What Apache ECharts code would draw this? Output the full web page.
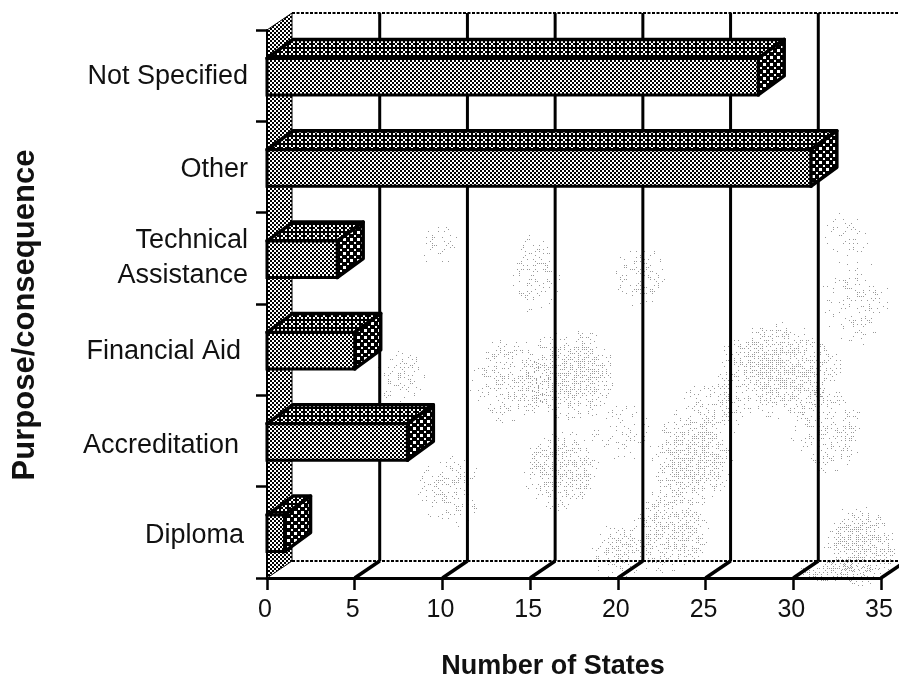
<!DOCTYPE html>
<html>
<head>
<meta charset="utf-8">
<style>html,body{margin:0;padding:0;background:#fff}#c{width:899px;height:680px}</style>
<script src="https://cdn.jsdelivr.net/npm/echarts@6/dist/echarts.min.js"></script>
</head>
<body>
<div id="c"></div>
<script>
const categories = ['Diploma', 'Accreditation', 'Financial Aid', 'Technical\nAssistance', 'Other', 'Not Specified'];
const stateCounts = [1, 8, 5, 4, 31, 28];
const xTicks = [0, 5, 10, 15, 20, 25, 30, 35];

const FONT = '"Liberation Sans", Arial, sans-serif';
const WALL_DX = 25, WALL_DY = -17, BAR_DX = 26, BAR_DY = -19;

function tile(w, h, draw) {
  const c = document.createElement('canvas');
  c.width = w; c.height = h;
  draw(c.getContext('2d'), w, h);
  return { image: c, repeat: 'repeat' };
}
function checker(cell, bg, fg) {
  return tile(cell * 2, cell * 2, (g, w, h) => {
    g.fillStyle = bg; g.fillRect(0, 0, w, h);
    g.fillStyle = fg;
    g.fillRect(0, 0, cell, cell);
    g.fillRect(cell, cell, cell, cell);
  });
}
const frontFill = checker(2, '#000', '#fff');
const wallFill = checker(2, '#000', '#fff');
const topFill = tile(8, 8, (g) => {
  g.fillStyle = '#000'; g.fillRect(0, 0, 8, 8);
  g.fillStyle = '#fff';
  [[1, 1], [3, 3], [5, 5], [5, 1], [1, 5]].forEach(([x, y]) => g.fillRect(x, y, 2, 2));
});
const sideFill = tile(7, 7, (g) => {
  g.fillStyle = '#000'; g.fillRect(0, 0, 7, 7);
  g.fillStyle = '#fff';
  g.fillRect(0, 0, 3, 3);
  g.fillRect(4, 4, 2, 2);
});

// Scanner noise of the printed page: faint dot clouds, deterministic.
function hash(x, y) {
  const s = Math.sin(x * 12.9898 + y * 78.233) * 43758.5453;
  return s - Math.floor(s);
}
function cloud(rx, ry, strength) {
  const c = document.createElement('canvas');
  c.width = rx * 2; c.height = ry * 2;
  const g = c.getContext('2d');
  g.fillStyle = '#999';
  for (let y = 0; y < ry * 2; y += 2) for (let x = 0; x < rx * 2; x += 2) {
    const d = Math.hypot((x - rx) / rx, (y - ry) / ry);
    if (d < 1 && hash(x + rx, y + ry * 3) < strength * (1 - d * d)) g.fillRect(x, y, 1, 1);
  }
  return c;
}
const clouds = [
  [570,375,46,50,.6],[510,380,44,44,.4],[780,370,66,50,.6],[690,460,44,50,.6],[560,470,40,42,.55],
  [670,530,44,44,.5],[860,545,38,42,.6],[620,550,34,30,.4],[450,490,34,40,.3],[400,375,28,30,.3],
  [535,275,26,44,.28],[440,245,24,24,.22],[640,275,30,34,.28],[855,300,36,46,.28],[845,235,26,26,.2],
  [710,410,40,34,.3],[825,430,40,44,.35],[620,430,34,34,.18],[835,570,50,12,.5]
];

function renderFrame(params, api) {
  const v = api.value(0);
  const cs = params.coordSys;
  const x = api.coord([v, 0])[0];
  const bottom = cs.y + cs.height, top = cs.y;
  const ink = { stroke: '#000', fill: null };
  const out = [];
  if (v === 0) {
    out.push({ type: 'polygon', shape: { points: [[x, top], [x + WALL_DX, top + WALL_DY], [x + WALL_DX, bottom + WALL_DY], [x, bottom]] },
      style: { fill: wallFill, stroke: '#000', lineWidth: 1 } });
    const end = cs.x + cs.width + WALL_DX;
    [top + WALL_DY, bottom + WALL_DY].forEach(y => out.push({ type: 'line', shape: { x1: x + WALL_DX, y1: y, x2: end, y2: y },
      style: { ...ink, lineWidth: 2, lineDash: [3, 1.5] } }));
  } else {
    out.push({ type: 'line', shape: { x1: x, y1: bottom, x2: x + WALL_DX, y2: bottom + WALL_DY }, style: { ...ink, lineWidth: 3.5 } });
    out.push({ type: 'line', shape: { x1: x + WALL_DX, y1: bottom + WALL_DY, x2: x + WALL_DX, y2: top + WALL_DY }, style: { ...ink, lineWidth: 3 } });
  }
  return { type: 'group', children: out };
}

function renderBar(params, api) {
  const p = api.coord([api.value(0), api.value(1)]);
  const x0 = api.coord([0, api.value(1)])[0];
  const h = api.size([0, 1])[1] * 0.4;
  const xr = p[0], yt = p[1] - h / 2 + 1, yb = p[1] + h / 2 + 1;
  const line = { stroke: '#000', lineWidth: 3.5, lineJoin: 'round' };
  return { type: 'group', children: [
    { type: 'polygon', shape: { points: [[x0, yt], [x0 + BAR_DX, yt + BAR_DY], [xr + BAR_DX, yt + BAR_DY], [xr, yt]] }, style: { fill: topFill, ...line } },
    { type: 'polygon', shape: { points: [[xr, yt], [xr + BAR_DX, yt + BAR_DY], [xr + BAR_DX, yb + BAR_DY], [xr, yb]] }, style: { fill: sideFill, ...line } },
    { type: 'rect', shape: { x: x0, y: yt, width: xr - x0, height: yb - yt }, style: { fill: frontFill, stroke: '#000', lineWidth: 3 } }
  ] };
}

const richLabel = (padding) => ({ fontFamily: FONT, fontSize: 27, color: '#111', padding });

const chart = echarts.init(document.getElementById('c'), null, { renderer: 'canvas' });
chart.setOption({
  animation: false,
  backgroundColor: '#fff',
  grid: { left: 267, right: 18, top: 30, bottom: 102, containLabel: false, outerBoundsMode: 'none' },
  graphic: { elements: clouds.map(([x, y, rx, ry, s]) => ({
    type: 'image', z: 0, silent: true, style: { image: cloud(rx, ry, s), x: x - rx, y: y - ry, width: rx * 2, height: ry * 2 }
  })) },
  xAxis: {
    type: 'value', min: 0, max: 35, interval: 5, z: 5,
    name: 'Number of States', nameLocation: 'middle', nameGap: 75,
    nameTextStyle: { fontFamily: FONT, fontSize: 27, fontWeight: 'bold', color: '#111', padding: [0, 42, 0, 0] },
    axisLine: { show: true, lineStyle: { color: '#000', width: 3 } },
    axisTick: { show: true, length: 12, lineStyle: { color: '#000', width: 2.5 } },
    axisLabel: { fontFamily: FONT, fontSize: 25, color: '#111', margin: 20, padding: [0, 4, 0, 0] },
    splitLine: { show: false }
  },
  yAxis: {
    type: 'category', data: categories, z: 5,
    name: 'Purpose/consequence', nameLocation: 'middle', nameGap: 226, nameRotate: 90,
    nameTextStyle: { fontFamily: FONT, fontSize: 31, fontWeight: 'bold', color: '#111', padding: [0, 22, 0, 0] },
    axisLine: { show: true, lineStyle: { color: '#000', width: 2 } },
    axisTick: { show: true, length: 11, alignWithLabel: false, lineStyle: { color: '#000', width: 2.5 } },
    axisLabel: {
      fontFamily: FONT, fontSize: 27, color: '#111', margin: 19, lineHeight: 35, align: 'right',
      formatter: (v) => ({ 'Not Specified': 'a', 'Other': 'b', 'Financial Aid': 'c', 'Accreditation': 'd', 'Diploma': 'e' }[v]
        ? '{' + { 'Not Specified': 'a', 'Other': 'b', 'Financial Aid': 'c', 'Accreditation': 'd', 'Diploma': 'e' }[v] + '|' + v + '}' : v),
      rich: {
        a: richLabel([2, 0, 0, 0]),
        b: richLabel([6, 0, 0, 0]),
        c: richLabel([4, 7, 0, 0]),
        d: richLabel([10, 9, 0, 0]),
        e: richLabel([6, 4, 0, 0])
      }
    }
  },
  series: [
    { type: 'custom', coordinateSystem: 'cartesian2d', z: 1, silent: true, renderItem: renderFrame,
      encode: { x: 0 }, data: xTicks.map(v => [v]) },
    { type: 'custom', coordinateSystem: 'cartesian2d', z: 2, silent: true, renderItem: renderBar,
      encode: { x: 0, y: 1 }, data: stateCounts.map((v, i) => [v, i]) }
  ]
});
</script>
</body>
</html>
